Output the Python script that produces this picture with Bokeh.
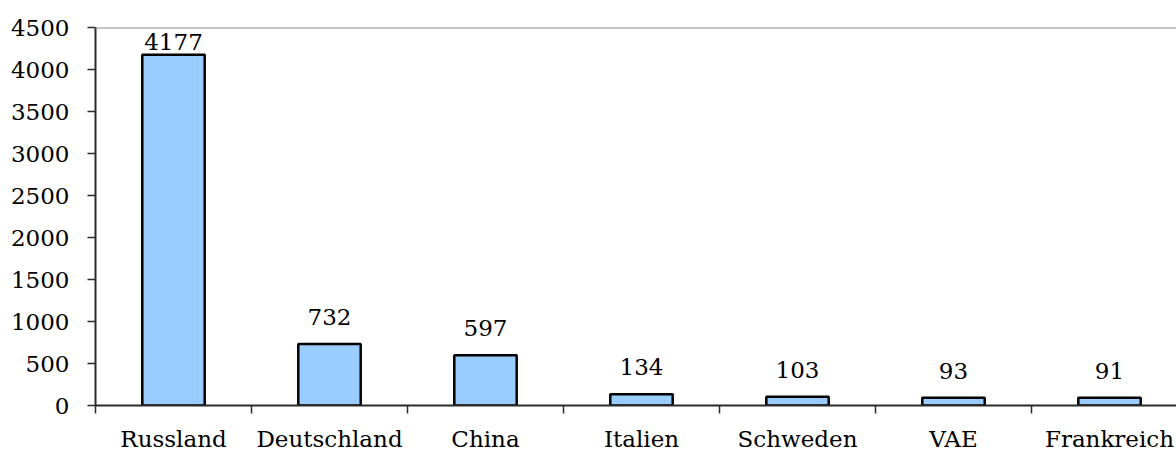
from bokeh.plotting import figure
from bokeh.models import Range1d, FixedTicker, ColumnDataSource, Span, CustomJSTickFormatter
from bokeh.core.properties import value
from bokeh.embed import file_html
from bokeh.resources import INLINE

countries = ["Russland", "Deutschland", "China", "Italien", "Schweden", "VAE", "Frankreich"]
values = [4177, 732, 597, 134, 103, 93, 91]
y_ticks = [0, 500, 1000, 1500, 2000, 2500, 3000, 3500, 4000, 4500]

FONT = "DejaVu Serif"
FS = "23px"
FRAME_W, FRAME_H = 1081, 378
CAT_PX = 156
Y_MAX = 4500

xs = [i + 0.5 for i in range(len(countries))]

# label offsets (pixels): above bar, clamped inside the plot area
ppu = FRAME_H / Y_MAX
offsets = []
for v in values:
    bar_top = FRAME_H - v * ppu
    base = max(bar_top - 18, 23)
    offsets.append(base - bar_top - 9)

src = ColumnDataSource(dict(x=xs, top=values, label=[str(v) for v in values], yoff=offsets))

p = figure(frame_width=FRAME_W, frame_height=FRAME_H,
           min_border_left=95, min_border_right=0, min_border_top=27, min_border_bottom=46,
           x_range=Range1d(0, FRAME_W / CAT_PX), y_range=Range1d(0, Y_MAX),
           output_backend="svg", toolbar_location=None)

p.vbar(x="x", top="top", width=0.4, bottom=0, source=src,
       fill_color="#99CCFF", line_color="black", line_width=2.5)

p.text(x="x", y="top", text="label", y_offset="yoff", source=src,
       text_font=value(FONT), text_font_size=FS, text_align="center",
       text_baseline="alphabetic", text_color="black")

p.add_layout(Span(location=Y_MAX, dimension="width", line_color="#8c8c8c", line_width=2))

p.outline_line_color = None
p.xgrid.grid_line_color = None
p.ygrid.grid_line_color = None
p.background_fill_color = "white"
p.border_fill_color = "white"

# y axis
p.yaxis.ticker = FixedTicker(ticks=y_ticks)
p.yaxis.axis_line_color = "#2a2a2a"
p.yaxis.axis_line_width = 2
p.yaxis.major_tick_line_color = "#2a2a2a"
p.yaxis.major_tick_line_width = 1.5
p.yaxis.major_tick_out = 8
p.yaxis.major_tick_in = 0
p.yaxis.minor_tick_line_color = None
p.yaxis.major_label_standoff = 18
p.yaxis.major_label_text_font = FONT
p.yaxis.major_label_text_font_size = FS
p.yaxis.major_label_text_color = "black"

# x axis
p.xaxis.ticker = FixedTicker(ticks=xs, minor_ticks=list(range(len(countries) + 1)))
p.xaxis.formatter = CustomJSTickFormatter(args=dict(names=countries),
                                          code="return names[Math.floor(tick)];")
p.xaxis.axis_line_color = "#2a2a2a"
p.xaxis.axis_line_width = 2
p.xaxis.major_tick_line_color = None
p.xaxis.major_tick_out = 0
p.xaxis.major_tick_in = 0
p.xaxis.minor_tick_line_color = "#2a2a2a"
p.xaxis.minor_tick_line_width = 1.5
p.xaxis.minor_tick_out = 8
p.xaxis.minor_tick_in = 0
p.xaxis.major_label_standoff = 12
p.xaxis.major_label_text_font = FONT
p.xaxis.major_label_text_font_size = FS
p.xaxis.major_label_text_color = "black"

open("out.html", "w").write(file_html(p, INLINE))
